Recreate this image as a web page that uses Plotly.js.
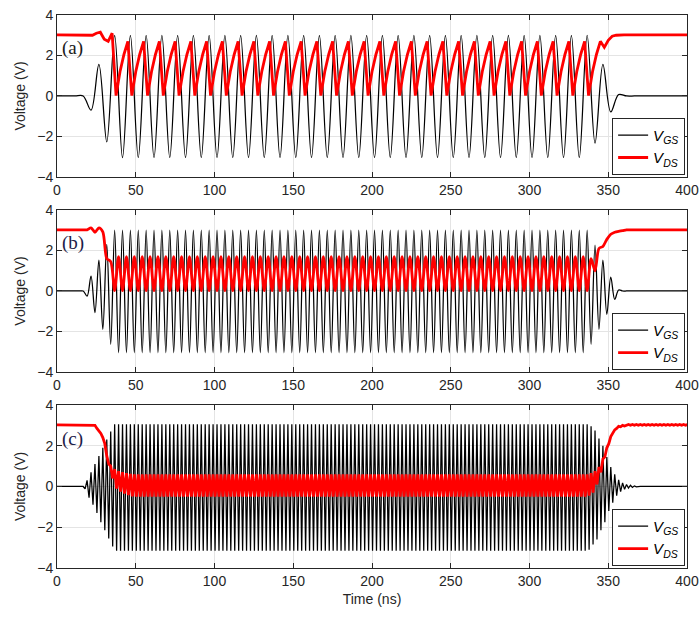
<!DOCTYPE html>
<html><head><meta charset="utf-8">
<script src="https://cdn.plot.ly/plotly-3.0.1.min.js"></script>
<style>html,body{margin:0;padding:0;background:#fff}#chart{width:700px;height:619px}</style>
</head><body><div id="chart"></div>
<script>
const seriesNames = ['<i>V</i><sub><i>GS</i></sub>', '<i>V</i><sub><i>DS</i></sub>'];
const panelLabels = ['(a)', '(b)', '(c)'];
const xTicks = [0, 50, 100, 150, 200, 250, 300, 350, 400];
const yTicks = [-4, -2, 0, 2, 4];

// panel (a): V_GS extrema every 5 ns starting at -3.4 ns
const tA_gs0 = -3.4, tA_gsStep = 5;
const vgsA = [
0,0,0,0,0,
-0.7,1.56,-2.27,
3,-3.05,3,-3.05,3,-3.05,3,-3.05,3,-3.05,3,-3.05,3,-3.05,3,-3.05,3,-3.05,3,-3.05,
3,-3.05,3,-3.05,3,-3.05,3,-3.05,3,-3.05,3,-3.05,3,-3.05,3,-3.05,3,-3.05,3,-3.05,
3,-3.05,3,-3.05,3,-3.05,3,-3.05,3,-3.05,3,-3.05,3,-3.05,3,-3.05,3,-3.05,3,-3.05,
3,
-2.33,1.56,-0.79,0.07,
0,0,0,0,0,0,0,0,0];
// panel (a): V_DS samples every 2.5 ns starting at 0 ns
const tA_ds0 = 0, tA_dsStep = 2.5;
const vdsA = [
3.02,3.02,3.02,3.02,3.02,3.02,3.02,3.02,3.02,
3.0,3.1,3.15,2.8,2.7,3.1,
0.02,1.2,2.05,2.7, 0.02,1.2,2.05,2.7, 0.02,1.2,2.05,2.7, 0.02,1.2,2.05,2.7, 0.02,1.2,2.05,2.7,
0.02,1.2,2.05,2.7, 0.02,1.2,2.05,2.7, 0.02,1.2,2.05,2.7, 0.02,1.2,2.05,2.7, 0.02,1.2,2.05,2.7,
0.02,1.2,2.05,2.7, 0.02,1.2,2.05,2.7, 0.02,1.2,2.05,2.7, 0.02,1.2,2.05,2.7, 0.02,1.2,2.05,2.7,
0.02,1.2,2.05,2.7, 0.02,1.2,2.05,2.7, 0.02,1.2,2.05,2.7, 0.02,1.2,2.05,2.7, 0.02,1.2,2.05,2.7,
0.02,1.2,2.05,2.7, 0.02,1.2,2.05,2.7, 0.02,1.2,2.05,2.7, 0.02,1.2,2.05,2.7, 0.02,1.2,2.05,2.7,
0.02,1.2,2.05,2.7, 0.02,1.2,2.05,2.7, 0.02,1.2,2.05,2.7, 0.02,1.2,2.05,2.7, 0.02,1.2,2.05,2.7,
0.02,1.2,2.05,2.7,2.4,2.75,2.95,3.0,
3.02,3.02,3.02,3.02,3.02,3.02,3.02,3.02,3.02,3.02,3.02,3.02,3.02,3.02,3.02,3.02,3.02,3.02];

// panel (b): both series, extrema every 2.5 ns starting at -0.9 ns
const tB0 = -0.9, tBStep = 2.5;
const vgsB = [
0,0,0,0,0,0,0,0,
-0.25,0.74,-1.07,1.53,-1.89,2.3,-2.63,
3,-3.05,3,-3.05,3,-3.05,3,-3.05,3,-3.05,3,-3.05,3,-3.05,3,-3.05,3,-3.05,3,-3.05,
3,-3.05,3,-3.05,3,-3.05,3,-3.05,3,-3.05,3,-3.05,3,-3.05,3,-3.05,3,-3.05,3,-3.05,
3,-3.05,3,-3.05,3,-3.05,3,-3.05,3,-3.05,3,-3.05,3,-3.05,3,-3.05,3,-3.05,3,-3.05,
3,-3.05,3,-3.05,3,-3.05,3,-3.05,3,-3.05,3,-3.05,3,-3.05,3,-3.05,3,-3.05,3,-3.05,
3,-3.05,3,-3.05,3,-3.05,3,-3.05,3,-3.05,3,-3.05,3,-3.05,3,-3.05,3,-3.05,3,-3.05,
3,-3.05,3,-3.05,3,-3.05,3,-3.05,3,-3.05,3,-3.05,3,-3.05,3,-3.05,3,-3.05,3,-3.05,
3,
-2.63,2.27,-1.89,1.53,-1.15,0.69,-0.41,0.05,
0,0,0,0,0,0,0,0,0,0,0,0,0,0,0,0,0,0];
const vdsB = [
3.02,3.02,3.02,3.02,3.02,3.02,3.02,3.02,3.02,
3.12,2.9,3.12,2.92,1.6,1.45,
0.02,1.7,0.02,1.7,0.02,1.7,0.02,1.7,0.02,1.7,0.02,1.7,0.02,1.7,0.02,1.7,0.02,1.7,0.02,1.7,
0.02,1.7,0.02,1.7,0.02,1.7,0.02,1.7,0.02,1.7,0.02,1.7,0.02,1.7,0.02,1.7,0.02,1.7,0.02,1.7,
0.02,1.7,0.02,1.7,0.02,1.7,0.02,1.7,0.02,1.7,0.02,1.7,0.02,1.7,0.02,1.7,0.02,1.7,0.02,1.7,
0.02,1.7,0.02,1.7,0.02,1.7,0.02,1.7,0.02,1.7,0.02,1.7,0.02,1.7,0.02,1.7,0.02,1.7,0.02,1.7,
0.02,1.7,0.02,1.7,0.02,1.7,0.02,1.7,0.02,1.7,0.02,1.7,0.02,1.7,0.02,1.7,0.02,1.7,0.02,1.7,
0.02,1.7,0.02,1.7,0.02,1.7,0.02,1.7,0.02,1.7,0.02,1.7,0.02,1.7,0.02,1.7,0.02,1.7,0.02,1.7,
0.02,
1.6,1.0,2.1,2.2,2.55,2.8,2.9,2.95,2.98,
3.02,3.02,3.02,3.02,3.02,3.02,3.02,3.02,3.02,3.02,3.02,3.02,3.02,3.02,3.02,3.02,3.02];

// panel (c): both series, extrema every 1.25 ns starting at -0.9 ns
const tC0 = -0.9, tCStep = 1.25;
const vgsC = [
0,0,0,0,0,0,0,0,0,0,0,0,0,0,0,
-0.12,0.3,-0.55,0.7,-0.9,1.1,-1.3,1.5,-1.75,1.9,-2.15,2.3,-2.55,2.7,-2.95,
3.05,-3.15,3.05,-3.15,3.05,-3.15,3.05,-3.15,3.05,-3.15,3.05,-3.15,3.05,-3.15,3.05,-3.15,3.05,-3.15,3.05,-3.15,
3.05,-3.15,3.05,-3.15,3.05,-3.15,3.05,-3.15,3.05,-3.15,3.05,-3.15,3.05,-3.15,3.05,-3.15,3.05,-3.15,3.05,-3.15,
3.05,-3.15,3.05,-3.15,3.05,-3.15,3.05,-3.15,3.05,-3.15,3.05,-3.15,3.05,-3.15,3.05,-3.15,3.05,-3.15,3.05,-3.15,
3.05,-3.15,3.05,-3.15,3.05,-3.15,3.05,-3.15,3.05,-3.15,3.05,-3.15,3.05,-3.15,3.05,-3.15,3.05,-3.15,3.05,-3.15,
3.05,-3.15,3.05,-3.15,3.05,-3.15,3.05,-3.15,3.05,-3.15,3.05,-3.15,3.05,-3.15,3.05,-3.15,3.05,-3.15,3.05,-3.15,
3.05,-3.15,3.05,-3.15,3.05,-3.15,3.05,-3.15,3.05,-3.15,3.05,-3.15,3.05,-3.15,3.05,-3.15,3.05,-3.15,3.05,-3.15,
3.05,-3.15,3.05,-3.15,3.05,-3.15,3.05,-3.15,3.05,-3.15,3.05,-3.15,3.05,-3.15,3.05,-3.15,3.05,-3.15,3.05,-3.15,
3.05,-3.15,3.05,-3.15,3.05,-3.15,3.05,-3.15,3.05,-3.15,3.05,-3.15,3.05,-3.15,3.05,-3.15,3.05,-3.15,3.05,-3.15,
3.05,-3.15,3.05,-3.15,3.05,-3.15,3.05,-3.15,3.05,-3.15,3.05,-3.15,3.05,-3.15,3.05,-3.15,3.05,-3.15,3.05,-3.15,
3.05,-3.15,3.05,-3.15,3.05,-3.15,3.05,-3.15,3.05,-3.15,3.05,-3.15,3.05,-3.15,3.05,-3.15,3.05,-3.15,3.05,-3.15,
3.05,-3.15,3.05,-3.15,3.05,-3.15,3.05,-3.15,3.05,-3.15,3.05,-3.15,3.05,-3.15,3.05,-3.15,3.05,-3.15,3.05,-3.15,
3.05,-3.15,3.05,-3.15,3.05,-3.15,3.05,-3.15,3.05,-3.15,3.05,-3.15,3.05,-3.15,3.05,-3.15,3.05,-3.15,3.05,-3.15,
3.05,-3.1,2.95,-2.85,2.75,-2.6,2.35,-2.15,2.0,-1.75,1.45,-1.2,0.95,-0.8,0.6,-0.45,0.33,-0.25,0.18,-0.14,0.1,-0.08,0.06,-0.05,0.03,-0.02,
0,0,0,0,0,0,0,0,0,0,0,0,0,0,0,0,0,0,0,0,0,0,0,0,0,0,0];
const vdsC = [
3.02,3.02,3.02,3.02,3.02,3.02,3.02,3.02,3.02,3.02,3.02,3.02,3.02,3.02,3.02,3.02,3.02,3.02,3.02,
3.03,3.0,2.85,2.75,2.6,2.4,2.1,1.5,1.1,1.0,0.4,0.85,-0.1,0.75,-0.25,0.7,-0.35,0.65,-0.42,0.62,-0.48,
0.6,-0.5,0.6,-0.5,0.6,-0.5,0.6,-0.5,0.6,-0.5,0.6,-0.5,0.6,-0.5,0.6,-0.5,0.6,-0.5,0.6,-0.5,
0.6,-0.5,0.6,-0.5,0.6,-0.5,0.6,-0.5,0.6,-0.5,0.6,-0.5,0.6,-0.5,0.6,-0.5,0.6,-0.5,0.6,-0.5,
0.6,-0.5,0.6,-0.5,0.6,-0.5,0.6,-0.5,0.6,-0.5,0.6,-0.5,0.6,-0.5,0.6,-0.5,0.6,-0.5,0.6,-0.5,
0.6,-0.5,0.6,-0.5,0.6,-0.5,0.6,-0.5,0.6,-0.5,0.6,-0.5,0.6,-0.5,0.6,-0.5,0.6,-0.5,0.6,-0.5,
0.6,-0.5,0.6,-0.5,0.6,-0.5,0.6,-0.5,0.6,-0.5,0.6,-0.5,0.6,-0.5,0.6,-0.5,0.6,-0.5,0.6,-0.5,
0.6,-0.5,0.6,-0.5,0.6,-0.5,0.6,-0.5,0.6,-0.5,0.6,-0.5,0.6,-0.5,0.6,-0.5,0.6,-0.5,0.6,-0.5,
0.6,-0.5,0.6,-0.5,0.6,-0.5,0.6,-0.5,0.6,-0.5,0.6,-0.5,0.6,-0.5,0.6,-0.5,0.6,-0.5,0.6,-0.5,
0.6,-0.5,0.6,-0.5,0.6,-0.5,0.6,-0.5,0.6,-0.5,0.6,-0.5,0.6,-0.5,0.6,-0.5,0.6,-0.5,0.6,-0.5,
0.6,-0.5,0.6,-0.5,0.6,-0.5,0.6,-0.5,0.6,-0.5,0.6,-0.5,0.6,-0.5,0.6,-0.5,0.6,-0.5,0.6,-0.5,
0.6,-0.5,0.6,-0.5,0.6,-0.5,0.6,-0.5,0.6,-0.5,0.6,-0.5,0.6,-0.5,0.6,-0.5,0.6,-0.5,0.6,-0.5,
0.6,-0.5,0.6,-0.5,0.6,-0.5,0.6,-0.5,0.6,-0.5,0.6,-0.5,0.6,-0.5,0.6,-0.5,0.6,-0.5,0.6,-0.5,
0.6,-0.5,0.6,-0.5,0.6,-0.5,0.6,-0.5,0.6,-0.5,
0.6,-0.45,0.65,-0.3,0.75,0.1,0.95,0.7,1.35,1.45,1.9,2.1,2.45,2.6,2.78,2.85,2.95,2.93,3.0,2.97,3.02,
3.04,3.0,3.04,3.0,3.04,3.0,3.04,3.0,3.04,3.0,3.04,3.0,3.04,3.0,3.04,3.0,
3.04,3.0,3.04,3.0,3.04,3.0,3.04,3.0,3.04,3.0,3.04,3.0,3.04,3.0,3.04,3.0];

// ---- chart ----
const sans = 'Liberation Sans, Arial, Helvetica, sans-serif';
const axColor = '#262626';
const tickFont = {family: sans, size: 14, color: axColor};
const yDomains = [[0.7071, 1], [0.3544, 0.6474], [0, 0.2948]];
const legendIds = ['legend', 'legend2', 'legend3'];
const axSuffix = ['', '2', '3'];

const panels = [
  {gs: {x0: tA_gs0, dx: tA_gsStep, y: vgsA, shape: 'spline'}, ds: {x0: tA_ds0, dx: tA_dsStep, y: vdsA, shape: 'linear'}},
  {gs: {x0: tB0, dx: tBStep, y: vgsB, shape: 'spline'}, ds: {x0: tB0, dx: tBStep, y: vdsB, shape: 'spline'}},
  {gs: {x0: tC0, dx: tCStep, y: vgsC, shape: 'linear'}, ds: {x0: tC0, dx: tCStep, y: vdsC, shape: 'linear'}}
];

const traces = [];
panels.forEach((p, k) => {
  const xa = 'x' + axSuffix[k], ya = 'y' + axSuffix[k];
  traces.push({type: 'scatter', mode: 'lines', x0: p.gs.x0, dx: p.gs.dx, y: p.gs.y,
    line: {color: '#000000', width: 1.25, shape: p.gs.shape, smoothing: 1},
    name: seriesNames[0], xaxis: xa, yaxis: ya, legend: legendIds[k], hoverinfo: 'skip'});
  traces.push({type: 'scatter', mode: 'lines', x0: p.ds.x0, dx: p.ds.dx, y: p.ds.y,
    line: {color: '#ff0000', width: 2.8, shape: p.ds.shape, smoothing: 0.8},
    name: seriesNames[1], xaxis: xa, yaxis: ya, legend: legendIds[k], hoverinfo: 'skip'});
});

const layout = {
  width: 700, height: 619,
  margin: {l: 57, r: 13, t: 15, b: 51},
  paper_bgcolor: '#ffffff', plot_bgcolor: '#ffffff',
  font: {family: sans, size: 14, color: axColor},
  annotations: []
};

for (let k = 0; k < 3; k++) {
  const s = axSuffix[k];
  layout['xaxis' + s] = {
    domain: [0, 1], anchor: 'y' + s, range: [0, 400], tickvals: xTicks,
    ticks: 'inside', ticklen: 5, tickcolor: axColor, tickwidth: 1,
    showline: true, linecolor: axColor, linewidth: 1, mirror: 'ticks',
    showgrid: true, gridcolor: '#e4e4e4', gridwidth: 1, zeroline: false,
    tickfont: tickFont
  };
  layout['yaxis' + s] = {
    domain: yDomains[k], anchor: 'x' + s, range: [-4, 4], tickvals: yTicks,
    ticks: 'inside', ticklen: 5, tickcolor: axColor, tickwidth: 1,
    showline: true, linecolor: axColor, linewidth: 1, mirror: 'ticks',
    showgrid: true, gridcolor: '#e4e4e4', gridwidth: 1, zeroline: false,
    tickfont: tickFont,
    title: {text: 'Voltage (V)', font: {family: sans, size: 14, color: axColor}, standoff: 8}
  };
  layout[legendIds[k]] = {
    x: 0.997, y: yDomains[k][0] + 0.004, xanchor: 'right', yanchor: 'bottom',
    xref: 'paper', yref: 'paper',
    bgcolor: '#ffffff', bordercolor: axColor, borderwidth: 1,
    font: {family: sans, size: 15, color: '#000'},
    tracegroupgap: 0, itemwidth: 30
  };
  layout.annotations.push({
    xref: 'x' + s, yref: 'y' + s, x: 2, y: 2.35, xanchor: 'left', yanchor: 'middle',
    text: panelLabels[k], showarrow: false,
    font: {family: 'Liberation Serif, Times New Roman, serif', size: 19, color: k === 0 ? '#1a1a1a' : '#1c2048'}
  });
}
layout.xaxis3.title = {text: 'Time (ns)', font: {family: sans, size: 14, color: axColor}, standoff: 6};

Plotly.newPlot('chart', traces, layout, {displayModeBar: false, staticPlot: true});
</script>
</body></html>
